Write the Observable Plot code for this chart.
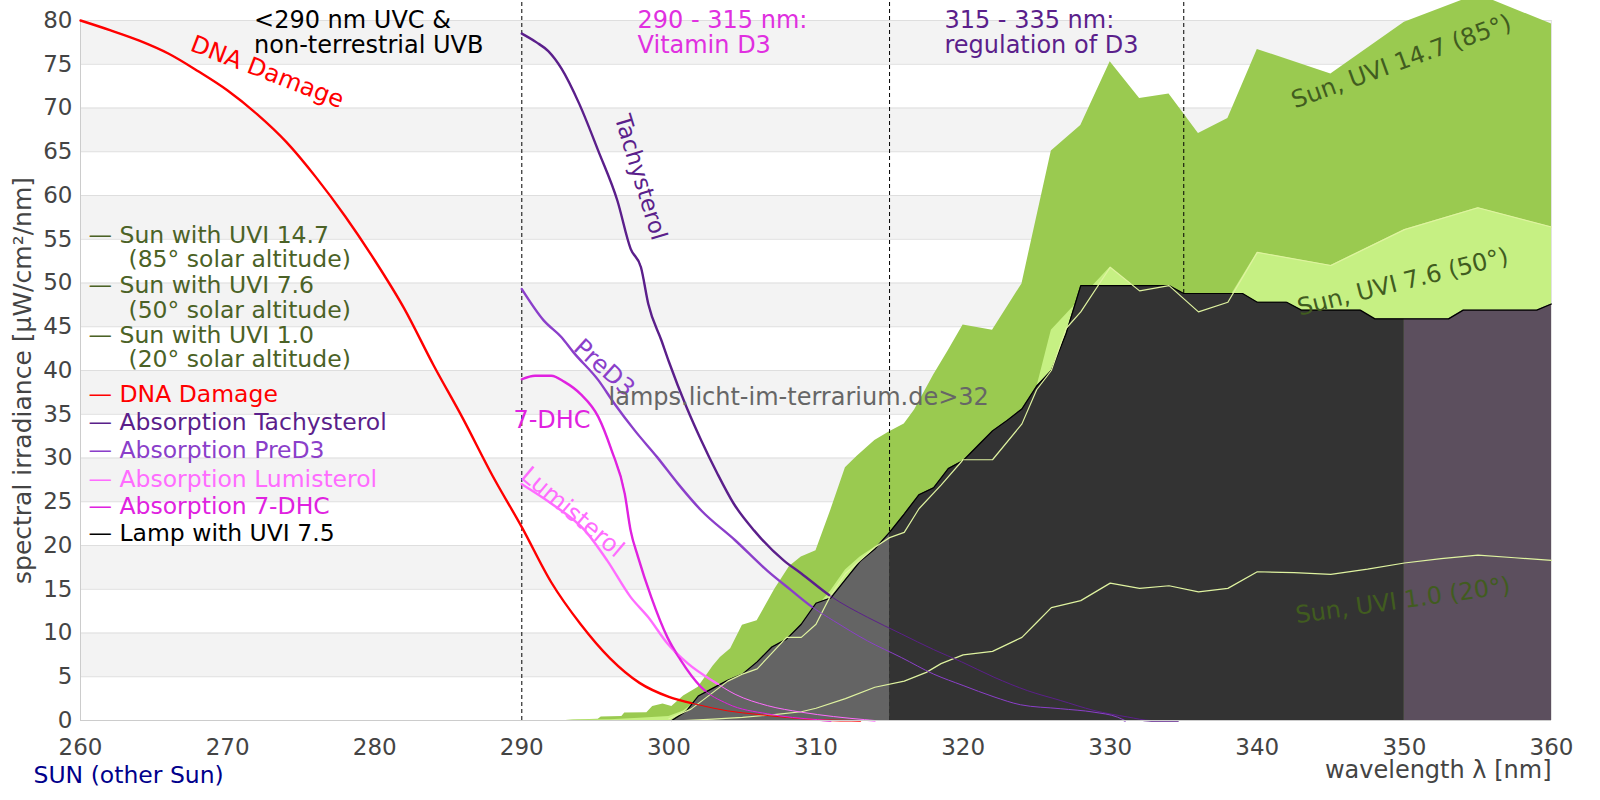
<!DOCTYPE html>
<html><head><meta charset="utf-8">
<script src="https://cdn.jsdelivr.net/npm/d3@7"></script>
<script src="https://cdn.jsdelivr.net/npm/@observablehq/plot@0.6"></script>
<style>body{margin:0;background:#fff;}</style>
</head><body><div id="chart"></div>
<script>
// ---------- axes ----------
const xDomain = [260, 360];
const yDomain = [0, 80];
const xTicks = [260, 270, 280, 290, 300, 310, 320, 330, 340, 350, 360];
const yTicks = [0, 5, 10, 15, 20, 25, 30, 35, 40, 45, 50, 55, 60, 65, 70, 75, 80];
const bandStarts = [5, 15, 25, 35, 45, 55, 65, 75];
const dividers = [290, 315, 335];
const lampSplits = [315, 350];

// ---------- series: [wavelength nm, value] ----------
const sun147 = [[293,0],[293.5,0.05],[295.2,0.15],[295.4,0.4],[296.8,0.45],[297,0.85],[298.5,0.9],[298.9,1.6],[299.6,1.9],[300.2,1.6],[301,2.8],[302,3.8],[303,6.2],[303.5,7.2],[304.2,8.2],[305,10.9],[306,11.4],[307.2,15],[308.2,17.6],[309,18.7],[310,19.4],[311,24],[312,28.9],[312.8,30.2],[314,32],[315,33],[316,33.9],[316.7,35.5],[318,39.5],[319,42.3],[320,45.2],[322,44.6],[324,49.9],[326,65.1],[328,68],[330,75.3],[332,71.1],[334,71.6],[336,67.1],[338,68.8],[340,76.7],[345,73.9],[350,79.8],[355,83],[360,79.6]];
const sun76Area = [[293,0],[294,0.05],[296,0.1],[298,0.25],[300,0.45],[301,1.1],[302,2.4],[304,4.4],[306,6.3],[308,9.3],[309,10.3],[310,12.8],[311,14.8],[312,17.2],[313,18.7],[314,19.8],[315,21],[316,22.5],[318,26.5],[320,29.8],[322,30.2],[324,35],[325,38],[326,44.6],[328,48.2],[330,51.8],[332,49.1],[334,49.7],[336,46.6],[338,48],[340,53.5],[345,52],[350,56.1],[355,58.6],[360,56.4]];
const sun76Line = [[300,0.2],[301.5,1.3],[302.6,2.7],[304,4.5],[305,5.3],[306,5.9],[307,7.7],[308,9.5],[309,9.5],[310,11],[311,14.3],[312,16.8],[313,18.3],[314,19.8],[315,20.9],[316,21.5],[317,24.2],[318.5,26.9],[320,29.8],[322,29.8],[324,33.9],[325,37.8],[326,40],[327,44.8],[328,46.7],[330,51.8],[332,49.1],[334,49.7],[336,46.7],[338,47.8],[340,53.5],[345,52],[350,56.1],[355,58.6],[360,56.4]];
const sun10Line = [[301,0],[303,0.15],[305,0.35],[307,0.65],[309,1.0],[310,1.4],[312,2.5],[314,3.8],[316,4.5],[317.5,5.5],[318.5,6.5],[320,7.5],[322,7.9],[324,9.5],[325,11.2],[326,12.9],[328,13.7],[330,15.7],[332,15.1],[334,15.4],[336,14.7],[338,15.1],[340,17],[342.5,16.9],[345,16.7],[347.5,17.3],[350,18],[352.5,18.5],[355,18.9],[357.5,18.6],[360,18.3]];
const lamp = [[300.2,0],[301.2,1.1],[302,2.8],[303,3.7],[304,4.6],[305,5.3],[306,6.7],[307,8.4],[308,9.3],[309,11],[310,13.4],[311,14],[312,16.1],[313,18.2],[314,19.6],[315,21.5],[316,23.6],[317,25.8],[318,26.6],[319,28.8],[320,29.7],[321,31.4],[322,33.1],[323,34.3],[324,35.6],[325,38.2],[326,40],[327,44.2],[328,49.7],[334,49.7],[335,48.8],[339,48.8],[340,47.8],[342,47.8],[343,46.9],[347,46.9],[348,45.9],[350,45.9],[353,45.9],[354,46.9],[359,46.9],[360,47.6]];
const dnaDamage = [[260,80],[262,78.9],[264,77.7],[266,76.2],[268,74.2],[270,72],[272,69.3],[274,66.1],[276,62.1],[278,57.6],[280,52.6],[282,47.1],[284,40.6],[286,34.5],[288,28],[290,22.1],[292,15.8],[294,11],[296,7.1],[298,4.3],[300,2.7],[302,1.8],[304,1.1],[306,0.7],[308,0.35],[310,0.1],[312,0.02],[313,0]];
const tachysterol = [[290,78.5],[291,77.5],[291.8,76.5],[292.7,74.5],[293.9,70.5],[295.2,65.1],[296.5,59.4],[297.4,53.9],[298.1,51.8],[298.6,47.6],[299.5,43.4],[300,41],[301.2,35.8],[302.2,32],[303.3,28.2],[304.4,24.8],[305.8,21.7],[307.8,18.3],[309,16.8],[311,14.2],[313.5,11.8],[315.8,9.9],[318,8.1],[319.9,6.7],[322.1,4.95],[324.4,3.4],[326.6,2.3],[328.9,1.15],[331.2,0.4],[332.8,0],[334.6,0]];
const preD3 = [[290,49.3],[291.5,45.7],[292.7,43.8],[293.5,42.1],[295.2,38.9],[296.3,36.2],[297.7,33.1],[299.2,30.1],[300.6,27.1],[302.2,24],[304.5,20.6],[306.7,17.1],[308.3,14.9],[309.8,12.9],[311.2,11.4],[313.5,9.1],[315.8,7.2],[318,5.3],[320,4],[322.1,2.7],[323.9,1.8],[326.6,1.35],[328.9,0.95],[330.5,0.38],[331,0]];
const lumisterol = [[290,27],[292,24.8],[294.3,21.7],[295.8,18.3],[297.4,14.1],[298.6,11.8],[299.9,8.8],[301.3,6.5],[303.1,4.4],[304.5,3],[306.7,1.7],[309,0.95],[311.2,0.45],[313.3,0.1],[314,0]];
const dhc7 = [[290,39],[290.9,39.4],[292,39.4],[292.9,38.7],[294,37.3],[295.2,34.7],[296.1,30.9],[297,25.9],[297.4,21.7],[297.9,18.7],[298.8,14.1],[299.9,9.5],[300.8,6.9],[302.2,3.8],[304,1.9],[306.7,0.76],[310.1,0.1],[311,0]];

// ---------- legend ----------
const legendLabels = ["— Sun with UVI 14.7","(85° solar altitude)","— Sun with UVI 7.6","(50° solar altitude)","— Sun with UVI 1.0","(20° solar altitude)","— DNA Damage","— Absorption Tachysterol","— Absorption PreD3","— Absorption Lumisterol","— Absorption 7-DHC","— Lamp with UVI 7.5"];
const legendColors = ["#4b6226","#4b6226","#4b6226","#4b6226","#4b6226","#4b6226","#ff0000","#5b1f8b","#8b3fca","#ff6cff","#e022e0","#000000"];
const legendIndent = [0,1,0,1,0,1,0,0,0,0,0,0];
const legendRowY = [55.4,52.66,49.69,46.88,44.0,41.23,37.31,34.08,30.88,27.6,24.48,21.43];

const C = {
  sun147: "#9aca50", sun76: "#c6f083", sunLine: "#dff3a0",
  lampA: "#646464", lampB: "#333333", lampC: "#5c4f5e",
  dna: "#ff0000", tachy: "#5b1f8b", pre: "#8b3fca", lumi: "#ff6cff", dhc: "#e022e0",
  sunLabel: "#415c1f"
};

const P = a => a.map(([nm, v]) => ({nm, v}));
const lampP = P(lamp);

const curves = [
  [dnaDamage, C.dna], [tachysterol, C.tachy], [preD3, C.pre], [lumisterol, C.lumi], [dhc7, C.dhc]
];

const thick = curves.map(([d, c]) => Plot.line(P(d), {x: "nm", y: "v", stroke: c, strokeWidth: 2.4, curve: "monotone-x"}));
const thin = curves.map(([d, c]) => Plot.line(P(d), {x: "nm", y: "v", stroke: c, strokeWidth: 1, curve: "monotone-x"}));

const label = (text, x, y, opts) => Plot.text([text], {x: () => x, y: () => y, text: d => d, fontSize: 24, ...opts});

const chart = Plot.plot({
  width: 1600, height: 800,
  marginLeft: 80, marginRight: 49, marginTop: 20, marginBottom: 80,
  style: {fontFamily: "DejaVu Sans, sans-serif", fontSize: "23px", color: "#444", background: "#fff", overflow: "visible"},
  x: {domain: xDomain, ticks: xTicks, tickSize: 0, tickPadding: 18, label: null, tickFormat: d => String(d)},
  y: {domain: yDomain, ticks: yTicks, tickSize: 0, tickPadding: 8, label: null, tickFormat: d => String(d)},
  color: {type: "identity"},
  marks: [
    Plot.rect(bandStarts, {x1: () => xDomain[0], x2: () => xDomain[1], y1: d => d, y2: d => d + 5, fill: "#f3f3f3"}),
    Plot.ruleY(yTicks, {stroke: "#dedede", strokeWidth: 1}),
    Plot.ruleX([xDomain[0]], {stroke: "#cccccc"}),
    Plot.ruleX([xDomain[1]], {stroke: "#e2e2e2"}),
    Plot.areaY(P(sun147), {x: "nm", y: "v", fill: C.sun147}),
    Plot.areaY(P(sun76Area), {x: "nm", y: "v", fill: C.sun76}),
    Plot.ruleX(dividers, {y1: () => 0, y2: () => 82.3, stroke: "#000", strokeWidth: 1, strokeDasharray: "4,3"}),
    ...thick,
    Plot.areaY(lampP.filter(d => d.nm <= lampSplits[0]), {x: "nm", y: "v", fill: C.lampA}),
    Plot.areaY(lampP.filter(d => d.nm >= lampSplits[0] && d.nm <= lampSplits[1]), {x: "nm", y: "v", fill: C.lampB}),
    Plot.areaY(lampP.filter(d => d.nm >= lampSplits[1]), {x: "nm", y: "v", fill: C.lampC}),
    Plot.line(lampP, {x: "nm", y: "v", stroke: "#000", strokeWidth: 1.2}),
    Plot.line(P(sun76Line), {x: "nm", y: "v", stroke: C.sunLine, strokeWidth: 1.2}),
    Plot.line(P(sun10Line), {x: "nm", y: "v", stroke: C.sunLine, strokeWidth: 1.2}),
    ...thin,
    Plot.ruleY([yDomain[0]], {stroke: "#cccccc"}),
    // region labels
    label("<290 nm UVC &\nnon-terrestrial UVB", 271.8, 78.65, {fill: "#000", textAnchor: "start", lineHeight: 1.04}),
    label("290 - 315 nm:\nVitamin D3", 297.87, 78.65, {fill: "#e030e0", textAnchor: "start", lineHeight: 1.04}),
    label("315 - 335 nm:\nregulation of D3", 318.73, 78.65, {fill: "#5b1f8b", textAnchor: "start", lineHeight: 1.04}),
    // curve labels
    label("DNA Damage", 272.7, 74.1, {fill: C.dna, rotate: 21}),
    label("Tachysterol", 298.07, 62.06, {fill: C.tachy, rotate: 73, fontSize: 23}),
    label("PreD3", 295.6, 40.3, {fill: C.pre, rotate: 42}),
    label("Lumisterol", 293.45, 23.8, {fill: C.lumi, rotate: 40}),
    label("7-DHC", 289.43, 34.35, {fill: C.dhc, textAnchor: "start"}),
    label("lamps.licht-im-terrarium.de>32", 295.9, 36.9, {fill: "#666", textAnchor: "start"}),
    label("Sun, UVI 14.7 (85°)", 349.8, 75.3, {fill: C.sunLabel, rotate: -20}),
    label("Sun, UVI 7.6 (50°)", 349.9, 50.1, {fill: C.sunLabel, rotate: -14}),
    label("Sun, UVI 1.0 (20°)", 349.9, 13.7, {fill: C.sunLabel, rotate: -8}),
    // legend
    Plot.text(legendLabels.map((_, i) => i).filter(i => !legendIndent[i]), {frameAnchor: "left", y: i => legendRowY[i], text: i => legendLabels[i], fill: i => legendColors[i], textAnchor: "start", dx: 8, fontSize: 23.5}),
    Plot.text(legendLabels.map((_, i) => i).filter(i => legendIndent[i]), {frameAnchor: "left", y: i => legendRowY[i], text: i => legendLabels[i], fill: i => legendColors[i], textAnchor: "start", dx: 48, fontSize: 23.5}),
    // axis titles & footer
    Plot.text(["spectral irradiance [µW/cm²/nm]"], {frameAnchor: "left", textAnchor: "middle", rotate: -90, dx: -58, dy: 10, fontSize: 25, fill: "#444"}),
    Plot.text(["wavelength λ [nm]"], {frameAnchor: "bottom-right", textAnchor: "end", dy: 57, fontSize: 24, fill: "#444"}),
    Plot.text(["SUN (other Sun)"], {frameAnchor: "bottom-left", textAnchor: "start", dx: -47, dy: 62, fontSize: 23.5, fill: "#00008b"})
  ]
});
document.getElementById("chart").appendChild(chart);
</script></body></html>
